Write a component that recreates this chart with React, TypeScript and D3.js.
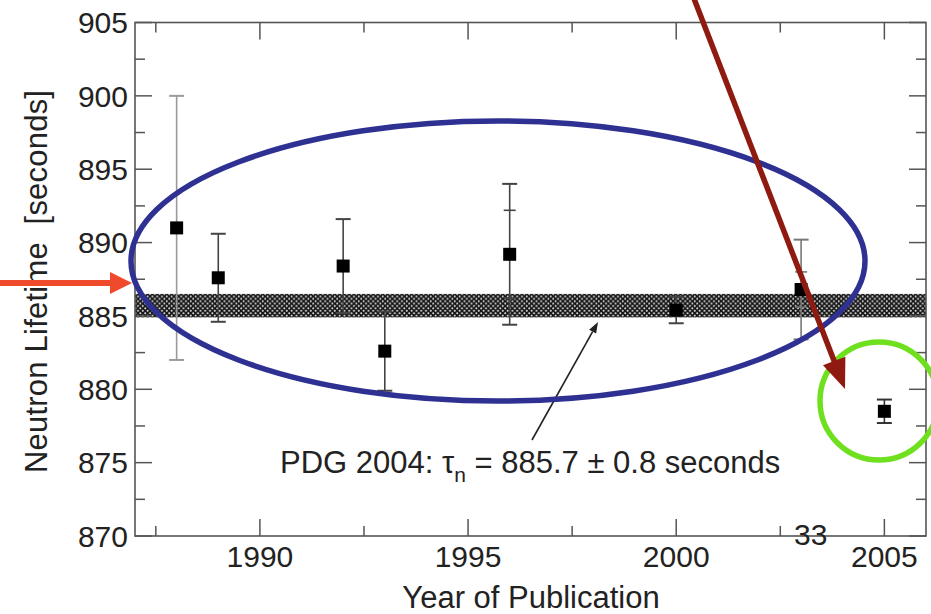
import React from "react";
import * as d3 from "d3";

const years = [1988, 1989, 1992, 1993, 1996, 2000, 2003, 2005];
const values = [891.0, 887.6, 888.4, 882.6, 889.2, 885.4, 886.8, 878.5];
const errors = [9.0, 3.0, 3.2, 2.7, 4.8, 0.9, 3.4, 0.8];
const innerErrors = [0, 0, 0, 0, 3.0, 0, 1.2, 0];
const barColors = ["#9a9a9a", "#444", "#444", "#444", "#444", "#444", "#777", "#333"];

const pdgValue = 885.7;
const pdgError = 0.8;

const xMajorTicks = [1990, 1995, 2000, 2005];
const xMinorTicks = [1987.5, 1992.5, 1997.5, 2002.5];
const yMajorTicks = [870, 875, 880, 885, 890, 895, 900, 905];
const yMinorTicks = [872.5, 877.5, 882.5, 887.5, 892.5, 897.5, 902.5];

const yTitle = "Neutron Lifetime  [seconds]";

const W = 931;
const H = 614;
const font = "'Liberation Sans', Arial, Helvetica, sans-serif";
const textColor = "#222";

export default function App() {
  const x = d3.scaleLinear().domain([1987, 2006]).range([135, 926]);
  const y = d3.scaleLinear().domain([870, 905]).range([536, 22.5]);
  const [x0, x1] = x.range();
  const [y0, y1] = y.range();
  const majorLen = 17;
  const minorLen = 10;
  const axisColor = "#555";

  // dark red arrow geometry
  const rs = [693, -4];
  const rt = [845, 389];
  const dx = rt[0] - rs[0];
  const dy = rt[1] - rs[1];
  const L = Math.hypot(dx, dy);
  const ux = dx / L, uy = dy / L;
  const headLen = 30, headHalf = 12;
  const hb = [rt[0] - ux * headLen, rt[1] - uy * headLen];
  const redHead = [
    [rt[0], rt[1]],
    [hb[0] - uy * headHalf, hb[1] + ux * headHalf],
    [hb[0] + uy * headHalf, hb[1] - ux * headHalf],
  ];

  // annotation arrow
  const as = [532, 440];
  const at = [598, 322];
  const adx = at[0] - as[0], ady = at[1] - as[1];
  const aL = Math.hypot(adx, ady);
  const aux = adx / aL, auy = ady / aL;
  const aHL = 11, aHH = 4;
  const ab = [at[0] - aux * aHL, at[1] - auy * aHL];
  const annHead = [
    [at[0], at[1]],
    [ab[0] - auy * aHH, ab[1] + aux * aHH],
    [ab[0] + auy * aHH, ab[1] - aux * aHH],
  ];

  return (
    <svg width={W} height={H} style={{ position: "absolute", left: 0, top: 0, background: "#fff" }}>
      <defs>
        <pattern id="hatch" width="4.8" height="4.8" patternUnits="userSpaceOnUse">
          <rect width="4.8" height="4.8" fill="#161616" />
          <circle cx="1.2" cy="1.2" r="0.95" fill="#f0f0f0" />
          <circle cx="3.6" cy="3.6" r="0.95" fill="#f0f0f0" />
        </pattern>
      </defs>
      <rect width={W} height={H} fill="#fff" />

      {/* PDG band */}
      <rect
        x={x0}
        y={y(pdgValue + pdgError)}
        width={x1 - x0}
        height={y(pdgValue - pdgError) - y(pdgValue + pdgError)}
        fill="url(#hatch)"
      />

      {/* frame */}
      <rect x={x0} y={y1} width={x1 - x0} height={y0 - y1} fill="none" stroke={axisColor} strokeWidth={1.6} />

      {/* y ticks */}
      {yMajorTicks.map((t) => (
        <g key={"ym" + t}>
          <line x1={x0} x2={x0 + majorLen} y1={y(t)} y2={y(t)} stroke={axisColor} strokeWidth={1.5} />
          <line x1={x1} x2={x1 - majorLen} y1={y(t)} y2={y(t)} stroke={axisColor} strokeWidth={1.5} />
          <text x={x0 - 7} y={y(t)} dy="0.36em" textAnchor="end" fontFamily={font} fontSize={30} fill={textColor}>
            {t}
          </text>
        </g>
      ))}
      {yMinorTicks.map((t) => (
        <g key={"yn" + t}>
          <line x1={x0} x2={x0 + minorLen} y1={y(t)} y2={y(t)} stroke={axisColor} strokeWidth={1.5} />
          <line x1={x1} x2={x1 - minorLen} y1={y(t)} y2={y(t)} stroke={axisColor} strokeWidth={1.5} />
        </g>
      ))}

      {/* x ticks */}
      {xMajorTicks.map((t) => (
        <g key={"xm" + t}>
          <line x1={x(t)} x2={x(t)} y1={y0} y2={y0 - majorLen} stroke={axisColor} strokeWidth={1.5} />
          <line x1={x(t)} x2={x(t)} y1={y1} y2={y1 + majorLen} stroke={axisColor} strokeWidth={1.5} />
          <text x={x(t)} y={567} textAnchor="middle" fontFamily={font} fontSize={30} fill={textColor}>
            {t}
          </text>
        </g>
      ))}
      {xMinorTicks.map((t) => (
        <g key={"xn" + t}>
          <line x1={x(t)} x2={x(t)} y1={y0} y2={y0 - minorLen} stroke={axisColor} strokeWidth={1.5} />
          <line x1={x(t)} x2={x(t)} y1={y1} y2={y1 + minorLen} stroke={axisColor} strokeWidth={1.5} />
        </g>
      ))}

      {/* error bars */}
      {years.map((yr, i) => {
        const cx = x(yr);
        const c = barColors[i];
        const capW = 7.5;
        const hi = y(values[i] + errors[i]);
        const lo = y(values[i] - errors[i]);
        return (
          <g key={"eb" + yr}>
            <line x1={cx} x2={cx} y1={hi} y2={lo} stroke={c} strokeWidth={1.6} />
            <line x1={cx - capW} x2={cx + capW} y1={hi} y2={hi} stroke={c} strokeWidth={2} />
            <line x1={cx - capW} x2={cx + capW} y1={lo} y2={lo} stroke={c} strokeWidth={2} />
            {innerErrors[i] > 0 && (
              <g>
                <line x1={cx - 6} x2={cx + 6} y1={y(values[i] + innerErrors[i])} y2={y(values[i] + innerErrors[i])} stroke={c} strokeWidth={1.6} />
                <line x1={cx - 6} x2={cx + 6} y1={y(values[i] - innerErrors[i])} y2={y(values[i] - innerErrors[i])} stroke={c} strokeWidth={1.6} />
              </g>
            )}
          </g>
        );
      })}
      {/* markers */}
      {years.map((yr, i) => (
        <rect key={"pt" + yr} x={x(yr) - 6.5} y={y(values[i]) - 6.5} width={13} height={13} fill="#000" />
      ))}

      {/* annotation */}
      <line x1={as[0]} y1={as[1]} x2={ab[0]} y2={ab[1]} stroke="#222" strokeWidth={1.6} />
      <polygon points={annHead.map((p) => p.join(",")).join(" ")} fill="#222" />
      <text x={280} y={473} fontFamily={font} fontSize={31} fill={textColor}>
        PDG 2004: τ
        <tspan fontSize={21} dy={9}>n</tspan>
        <tspan dy={-9}> = 885.7 ± 0.8 seconds</tspan>
      </text>

      {/* axis titles */}
      <text x={531} y={608} textAnchor="middle" fontFamily={font} fontSize={31} fill={textColor}>
        Year of Publication
      </text>
      <text
        transform="translate(47,473) rotate(-90)"
        fontFamily={font}
        fontSize={31}
        fill={textColor}
        textLength={383}
        lengthAdjust="spacing"
        style={{ whiteSpace: "pre" }}
      >
        {yTitle}
      </text>

      <text x={794} y={545} fontFamily={font} fontSize={30} fill="#222">
        33
      </text>

      {/* blue ellipse */}
      <ellipse cx={498} cy={261} rx={367} ry={140} fill="none" stroke="#2e3192" strokeWidth={5.5} />
      {/* green circle */}
      <circle cx={879} cy={401} r={59} fill="none" stroke="#6ee01e" strokeWidth={5.5} />

      {/* dark red arrow */}
      <line x1={rs[0]} y1={rs[1]} x2={hb[0] + ux * 2} y2={hb[1] + uy * 2} stroke="#8e1a10" strokeWidth={5.5} />
      <polygon points={redHead.map((p) => p.join(",")).join(" ")} fill="#8e1a10" />

      {/* orange arrow */}
      <line x1={0} y1={283} x2={112} y2={283} stroke="#ef4a2c" strokeWidth={6} />
      <polygon points="110,272 132,283 110,294" fill="#ef4a2c" />
    </svg>
  );
}
